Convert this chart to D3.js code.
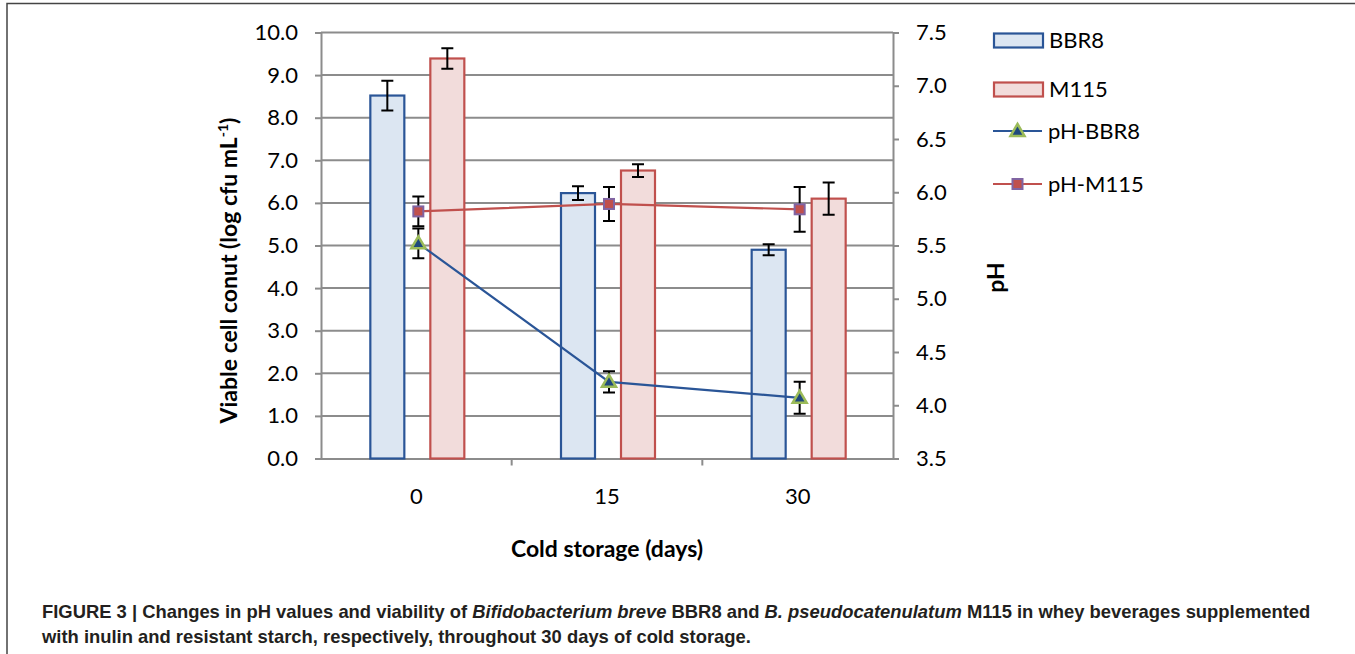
<!DOCTYPE html>
<html>
<head>
<meta charset="utf-8">
<script src="https://cdn.jsdelivr.net/npm/d3@7"></script>
<style>
  body { margin: 0; background: #fff; }
  svg { display: block; }
</style>
</head>
<body>
<div id="container"></div>
<script>
// data
const days = ["0", "15", "30"];
const barSeries = ["BBR8", "M115"];
const countBBR8 = [8.52, 6.23, 4.90];
const countBBR8Err = [0.35, 0.16, 0.13];
const countM115 = [9.39, 6.76, 6.10];
const countM115Err = [0.24, 0.15, 0.38];
const phBBR8 = [5.52, 4.22, 4.07];
const phBBR8Err = [0.14, 0.10, 0.15];
const phM115 = [5.82, 5.89, 5.84];
const phM115Err = [0.14, 0.16, 0.21];
const leftTicks = d3.range(0, 10.01, 1);
const rightTicks = d3.range(3.5, 7.51, 0.5);

const width = 1355, height = 654;
const plot = { left: 321, right: 893, top: 32.5, bottom: 458.5 };
const blue = "#2a5597", red = "#c0504d";
const font = "Lato, 'Open Sans', sans-serif";

const svg = d3.select("#container").append("svg")
    .attr("width", width)
    .attr("height", height);

// figure frame (top + left edge only)
svg.append("path")
    .attr("d", `M7,654V3.5H${width}`)
    .attr("fill", "none")
    .attr("stroke", "#444")
    .attr("stroke-width", 1.5);

const x = d3.scaleBand().domain(days).range([plot.left, plot.right]);
const xInner = d3.scalePoint().domain(barSeries).range([-29, 31]);
const yL = d3.scaleLinear().domain([0, 10]).range([plot.bottom, plot.top]);
const yR = d3.scaleLinear().domain([3.5, 7.5]).range([plot.bottom, plot.top]);
const barW = 34;
const px = d => x(d) + x.bandwidth() / 2 + 2;

// gridlines
svg.append("g")
    .selectAll("line")
    .data(leftTicks.slice(1))
    .join("line")
    .attr("x1", plot.left).attr("x2", plot.right)
    .attr("y1", d => yL(d)).attr("y2", d => yL(d))
    .attr("stroke", "#8c8c8c")
    .attr("stroke-width", 2);

// axes
const axisL = svg.append("g")
    .attr("transform", `translate(${plot.left},0)`)
    .call(d3.axisLeft(yL).tickValues(leftTicks).tickFormat(d3.format(".1f")).tickSize(6).tickPadding(17));
const axisR = svg.append("g")
    .attr("transform", `translate(${plot.right},0)`)
    .call(d3.axisRight(yR).tickValues(rightTicks).tickFormat(d3.format(".1f")).tickSize(6).tickPadding(17));
const axisB = svg.append("g")
    .attr("transform", `translate(0,${plot.bottom})`)
    .call(d3.axisBottom(x).tickSize(0).tickPadding(30));

// category boundary ticks on the x axis
axisB.selectAll(".sep")
    .data(days.slice(1))
    .join("line")
    .attr("class", "sep")
    .attr("x1", d => x(d)).attr("x2", d => x(d))
    .attr("y1", 0).attr("y2", 7)
    .attr("stroke", "#8c8c8c")
    .attr("stroke-width", 2);

[axisL, axisR, axisB].forEach(g => {
    g.select(".domain").attr("stroke", "#8c8c8c").attr("stroke-width", 2);
    g.selectAll(".tick line").attr("stroke", "#8c8c8c").attr("stroke-width", 2);
    g.selectAll(".tick text")
        .attr("fill", "#000")
        .style("font-family", font)
        .style("font-size", "22px");
});

// bars
const bars = [
    { key: "BBR8", vals: countBBR8, errs: countBBR8Err, fill: "#dce6f2", stroke: blue },
    { key: "M115", vals: countM115, errs: countM115Err, fill: "#f2dcdb", stroke: red }
];
bars.forEach(s => {
    svg.append("g")
        .selectAll("rect")
        .data(days)
        .join("rect")
        .attr("x", (d, i) => x(d) + x.bandwidth() / 2 + xInner(s.key) - barW / 2)
        .attr("y", (d, i) => yL(s.vals[i]))
        .attr("width", barW)
        .attr("height", (d, i) => yL(0) - yL(s.vals[i]))
        .attr("fill", s.fill)
        .attr("stroke", s.stroke)
        .attr("stroke-width", 2.2);
});

function errorBars(g, xs, ys, es, scale) {
    const cap = 6;
    const eg = g.append("g").attr("stroke", "#000").attr("stroke-width", 2).attr("fill", "none");
    eg.selectAll("path")
        .data(xs)
        .join("path")
        .attr("d", (d, i) => {
            const cx = d, top = scale(ys[i] + es[i]), bot = scale(ys[i] - es[i]);
            return `M${cx},${top}V${bot}M${cx - cap},${top}H${cx + cap}M${cx - cap},${bot}H${cx + cap}`;
        });
}

bars.forEach(s => {
    errorBars(svg, days.map(d => x(d) + x.bandwidth() / 2 + xInner(s.key)), s.vals, s.errs, yL);
});

// pH lines
const lines = [
    { key: "pH-BBR8", vals: phBBR8, errs: phBBR8Err, color: blue, marker: "triangle" },
    { key: "pH-M115", vals: phM115, errs: phM115Err, color: red, marker: "square" }
];
const lineGen = d3.line();
lines.forEach(s => {
    errorBars(svg, days.map(px), s.vals, s.errs, yR);
});
lines.forEach(s => {
    svg.append("path")
        .datum(days.map((d, i) => [px(d), yR(s.vals[i])]))
        .attr("fill", "none")
        .attr("stroke", s.color)
        .attr("stroke-width", 2.2)
        .attr("d", lineGen);
});

function drawMarker(g, type, cx, cy) {
    if (type === "triangle") {
        g.append("path")
            .attr("d", `M${cx},${cy - 7}L${cx + 7},${cy + 5}L${cx - 7},${cy + 5}Z`)
            .attr("fill", "#1f497d")
            .attr("stroke", "#9bbb59")
            .attr("stroke-width", 2.5)
            .attr("stroke-linejoin", "miter");
    } else {
        g.append("rect")
            .attr("x", cx - 5).attr("y", cy - 5)
            .attr("width", 10).attr("height", 10)
            .attr("fill", red)
            .attr("stroke", "#8064a2")
            .attr("stroke-width", 2);
    }
}
lines.forEach(s => {
    const g = svg.append("g");
    days.forEach((d, i) => drawMarker(g, s.marker, px(d), yR(s.vals[i])));
});

// axis titles
svg.append("text")
    .attr("transform", `translate(237,${(plot.top + plot.bottom) / 2 + 25}) rotate(-90)`)
    .attr("text-anchor", "middle")
    .style("font-family", font)
    .style("font-weight", "bold")
    .style("font-size", "23px")
    .attr("fill", "#000")
    .call(t => {
        t.append("tspan").text("Viable cell conut (log cfu mL");
        t.append("tspan").attr("dy", -9).style("font-size", "14px").text("-1");
        t.append("tspan").attr("dy", 9).text(")");
    });

svg.append("text")
    .attr("transform", `translate(1004,${(plot.top + plot.bottom) / 2 + 32}) rotate(-90)`)
    .attr("text-anchor", "middle")
    .style("font-family", font)
    .style("font-weight", "bold")
    .style("font-size", "23px")
    .attr("fill", "#000")
    .text("pH");

svg.append("text")
    .attr("x", (plot.left + plot.right) / 2)
    .attr("y", 557)
    .attr("text-anchor", "middle")
    .style("font-family", font)
    .style("font-weight", "bold")
    .style("font-size", "23px")
    .attr("fill", "#000")
    .text("Cold storage (days)");

// legend
const legendItems = [
    { label: "BBR8", type: "bar", fill: "#dce6f2", stroke: blue },
    { label: "M115", type: "bar", fill: "#f2dcdb", stroke: red },
    { label: "pH-BBR8", type: "line", color: blue, marker: "triangle" },
    { label: "pH-M115", type: "line", color: red, marker: "square" }
];
const legendY = [40.5, 89.5, 131, 184];
const legend = svg.append("g");
legendItems.forEach((it, i) => {
    const cy = legendY[i];
    if (it.type === "bar") {
        legend.append("rect")
            .attr("x", 994).attr("y", cy - 7)
            .attr("width", 49).attr("height", 14)
            .attr("fill", it.fill)
            .attr("stroke", it.stroke)
            .attr("stroke-width", 2.2);
    } else {
        legend.append("line")
            .attr("x1", 993).attr("x2", 1042)
            .attr("y1", cy).attr("y2", cy)
            .attr("stroke", it.color)
            .attr("stroke-width", 2.2);
        drawMarker(legend, it.marker, 1017.5, cy);
    }
    legend.append("text")
        .attr("x", it.type === "bar" ? 1049 : 1048)
        .attr("y", cy)
        .attr("dy", "0.35em")
        .style("font-family", font)
        .style("font-size", "22px")
        .attr("fill", "#000")
        .text(it.label);
});

// caption
const cap = svg.append("g")
    .style("font-family", "'Liberation Sans', Arial, sans-serif")
    .style("font-weight", "bold")
    .style("font-size", "18.4px")
    .attr("fill", "#231f20");
const line1 = cap.append("text").attr("x", 42).attr("y", 618);
[["FIGURE 3 | Changes in pH values and viability of ", false],
 ["Bifidobacterium breve", true],
 [" BBR8 and ", false],
 ["B. pseudocatenulatum", true],
 [" M115 in whey beverages supplemented", false]]
    .forEach(([t, it]) => line1.append("tspan").style("font-style", it ? "italic" : "normal").text(t));
cap.append("text").attr("x", 42).attr("y", 643)
    .text("with inulin and resistant starch, respectively, throughout 30 days of cold storage.");
</script>
</body>
</html>
